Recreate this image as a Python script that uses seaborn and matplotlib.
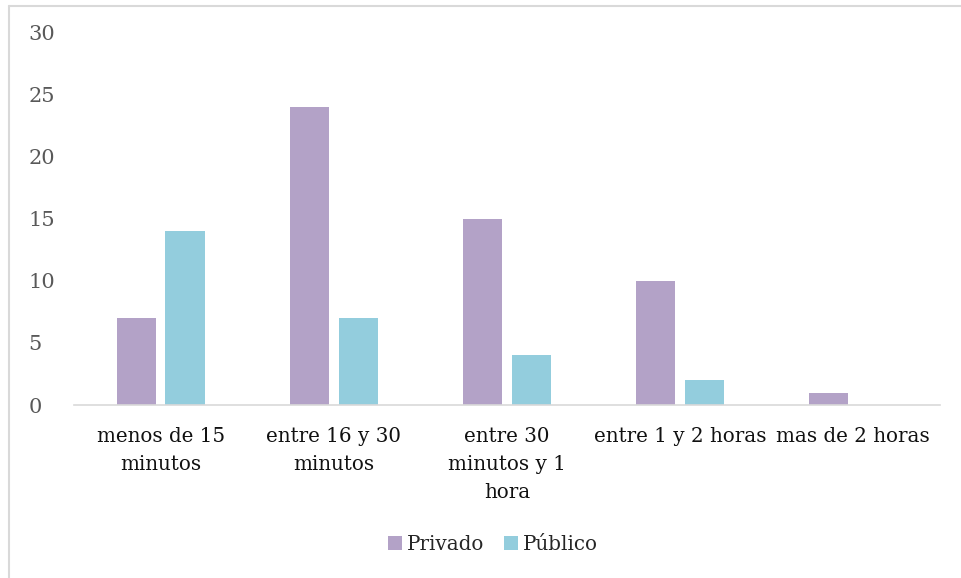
import pandas as pd
import matplotlib.pyplot as plt
import seaborn as sns
from matplotlib.lines import Line2D

# Datos
categorias = ["menos de 15\nminutos", "entre 16 y 30\nminutos", "entre 30\nminutos y 1\nhora",
              "entre 1 y 2 horas", "mas de 2 horas"]
privado = [7, 24, 15, 10, 1]
publico = [14, 7, 4, 2, 0]

df = pd.DataFrame({
    "categoria": categorias * 2,
    "valor": privado + publico,
    "tipo": ["Privado"] * len(categorias) + ["Público"] * len(categorias),
})

sns.set_style("white")
plt.rcParams["font.family"] = ["DejaVu Serif"]

fig = plt.figure(figsize=(9.61, 5.78), dpi=100)
ax = fig.add_axes([0.0770, 0.2993, 0.9011, 0.6437])

sns.barplot(data=df, x="categoria", y="valor", hue="tipo",
            palette={"Privado": "#B3A2C7", "Público": "#93CDDD"},
            saturation=1, width=0.565, gap=0.2, linewidth=0, ax=ax)

ax.set_ylim(0, 30)
ax.set_xlim(-0.5, 4.5)
ax.set_yticks(range(0, 31, 5))
ax.set_xlabel("")
ax.set_ylabel("")
for s in ["top", "right", "left"]:
    ax.spines[s].set_visible(False)
ax.spines["bottom"].set_color("#D9D9D9")
ax.spines["bottom"].set_linewidth(1.2)
ax.tick_params(axis="y", length=0, labelsize=15, colors="#595959", pad=33)
ax.tick_params(axis="x", length=0, labelsize=14.3, labelcolor="#111111", pad=16)
for lbl in ax.get_yticklabels():
    lbl.set_horizontalalignment("left")
for lbl in ax.get_xticklabels():
    lbl.set_linespacing(1.6)

leg = ax.legend(loc="center", bbox_to_anchor=(0.513, 0.0577), bbox_transform=fig.transFigure,
                ncol=2, frameon=False, fontsize=14.3, handlelength=0.7, handleheight=0.7,
                handletextpad=0.25, columnspacing=1.0)

# borde del gráfico (solo arriba e izquierda visibles)
fig.lines.append(Line2D([8.5 / 961, 8.5 / 961], [0, 572.5 / 578], transform=fig.transFigure,
                        color="#D9D9D9", linewidth=1.5))
fig.lines.append(Line2D([8.5 / 961, 1], [572.5 / 578, 572.5 / 578], transform=fig.transFigure,
                        color="#D9D9D9", linewidth=1.5))

plt.savefig("out.png", dpi=100)
